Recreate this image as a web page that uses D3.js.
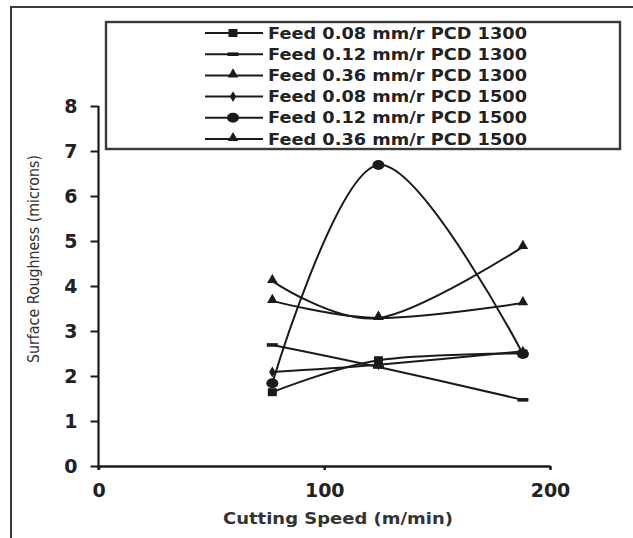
<!DOCTYPE html>
<html>
<head>
<meta charset="utf-8">
<script src="https://cdn.jsdelivr.net/npm/d3@7"></script>
<style>
  body { margin: 0; background: #fff; }
  svg { display: block; }
</style>
</head>
<body>
<svg id="chart"></svg>
<script>
// cutting speed (m/min) for the three tests
const speeds = [77, 124, 188];

// surface roughness (microns), one list per series
const feed008pcd1300 = [1.64, 2.35, 2.5];
const feed012pcd1300 = [2.69, 2.2, 1.47];
const feed036pcd1300 = [4.11, 3.29, 4.87];
const feed008pcd1500 = [2.09, 2.25, 2.55];
const feed012pcd1500 = [1.84, 6.69, 2.49];
const feed036pcd1500 = [3.67, 3.29, 3.62];

const seriesNames = [
    'Feed 0.08 mm/r PCD 1300',
    'Feed 0.12 mm/r PCD 1300',
    'Feed 0.36 mm/r PCD 1300',
    'Feed 0.08 mm/r PCD 1500',
    'Feed 0.12 mm/r PCD 1500',
    'Feed 0.36 mm/r PCD 1500'
];
const seriesValues = [feed008pcd1300, feed012pcd1300, feed036pcd1300,
                      feed008pcd1500, feed012pcd1500, feed036pcd1500];
const markerKinds = ['square', 'dash', 'triangle', 'diamond', 'circle', 'triangle'];

const xTicks = [0, 100, 200];
const yTicks = [0, 1, 2, 3, 4, 5, 6, 7, 8];

const width = 633, height = 538;
const svg = d3.select('#chart').attr('width', width).attr('height', height);

const x = d3.scaleLinear().domain([0, 200]).range([98.5, 550]);
const y = d3.scaleLinear().domain([0, 8]).range([466, 106]);

const ink = '#1a1a1a';
const font = '"DejaVu Sans", sans-serif';

// outer frame (top and left only)
svg.append('path')
    .attr('d', 'M11,538V7H633')
    .attr('fill', 'none')
    .attr('stroke', '#3a3a3a')
    .attr('stroke-width', 2);

// y axis
const yAxis = svg.append('g')
    .attr('transform', 'translate(' + x(0) + ',0)')
    .call(d3.axisLeft(y).tickValues(yTicks).tickSize(8).tickSizeOuter(0).tickPadding(13));
yAxis.select('.domain').attr('d', 'M0,' + y(8) + 'V' + (y(0) + 4)).attr('stroke', ink).attr('stroke-width', 2.2);
yAxis.selectAll('.tick line').attr('stroke', ink).attr('stroke-width', 2);
yAxis.selectAll('.tick text')
    .attr('fill', '#222')
    .style('font-family', font)
    .style('font-weight', 'bold')
    .style('font-size', '19px');

// x axis
const xAxis = svg.append('g')
    .attr('transform', 'translate(0,' + y(0) + ')')
    .call(d3.axisBottom(x).tickValues(xTicks).tickSize(4).tickSizeOuter(0).tickPadding(14));
xAxis.select('.domain').attr('stroke', ink).attr('stroke-width', 2.5);
xAxis.selectAll('.tick line').attr('stroke', ink).attr('stroke-width', 2.5);
xAxis.selectAll('.tick text')
    .attr('fill', '#222')
    .style('font-family', font)
    .style('font-weight', 'bold')
    .style('font-size', '19px');

// axis titles
svg.append('text')
    .attr('x', 338).attr('y', 524)
    .attr('text-anchor', 'middle')
    .attr('fill', '#333')
    .attr('textLength', 230).attr('lengthAdjust', 'spacingAndGlyphs')
    .style('font-family', font)
    .style('font-weight', 'bold')
    .style('font-size', '15px')
    .text('Cutting Speed (m/min)');

svg.append('text')
    .attr('transform', 'translate(39,259) rotate(-90)')
    .attr('text-anchor', 'middle')
    .attr('fill', '#333')
    .attr('textLength', 208).attr('lengthAdjust', 'spacingAndGlyphs')
    .style('font-family', font)
    .style('font-size', '15px')
    .text('Surface Roughness (microns)');

// marker drawing
function drawMarker(g, kind, cx, cy) {
    if (kind === 'square') {
        g.append('rect').attr('x', cx - 4.5).attr('y', cy - 4).attr('width', 9).attr('height', 8).attr('fill', ink);
    } else if (kind === 'dash') {
        g.append('rect').attr('x', cx - 5.5).attr('y', cy - 1.8).attr('width', 11).attr('height', 3.6).attr('fill', ink);
    } else if (kind === 'triangle') {
        g.append('path').attr('d', d3.symbol(d3.symbolTriangle, 48)()).attr('transform', 'translate(' + cx + ',' + (cy - 1) + ')').attr('fill', ink);
    } else if (kind === 'diamond') {
        g.append('path').attr('d', d3.symbol(d3.symbolDiamond, 34)()).attr('transform', 'translate(' + cx + ',' + cy + ')').attr('fill', ink);
    } else if (kind === 'circle') {
        g.append('ellipse').attr('cx', cx).attr('cy', cy).attr('rx', 6).attr('ry', 5).attr('fill', ink);
    }
}

// series lines
const line = d3.line()
    .x(d => x(d[0]))
    .y(d => y(d[1]))
    .curve(d3.curveCardinal.tension(0));

const plot = svg.append('g');
seriesValues.forEach((vals, i) => {
    const pts = speeds.map((s, j) => [s, vals[j]]);
    plot.append('path')
        .datum(pts)
        .attr('d', line)
        .attr('fill', 'none')
        .attr('stroke', ink)
        .attr('stroke-width', 2);
    const mg = plot.append('g');
    pts.forEach(p => drawMarker(mg, markerKinds[i], x(p[0]), y(p[1])));
});

// legend box
const legend = svg.append('g');
legend.append('rect')
    .attr('x', 106).attr('y', 22)
    .attr('width', 514).attr('height', 127)
    .attr('fill', '#fff')
    .attr('stroke', '#3a3a3a')
    .attr('stroke-width', 2.4);

seriesNames.forEach((name, i) => {
    const ly = 33 + i * 21.2;
    legend.append('line')
        .attr('x1', 205).attr('x2', 263)
        .attr('y1', ly).attr('y2', ly)
        .attr('stroke', ink).attr('stroke-width', 2);
    drawMarker(legend, markerKinds[i], 233, ly);
    legend.append('text')
        .attr('x', 268).attr('y', ly + 5.5)
        .attr('fill', '#222')
        .attr('textLength', 259).attr('lengthAdjust', 'spacingAndGlyphs')
        .style('font-family', font)
        .style('font-weight', 'bold')
        .style('font-size', '15px')
        .text(name);
});
</script>
</body>
</html>
